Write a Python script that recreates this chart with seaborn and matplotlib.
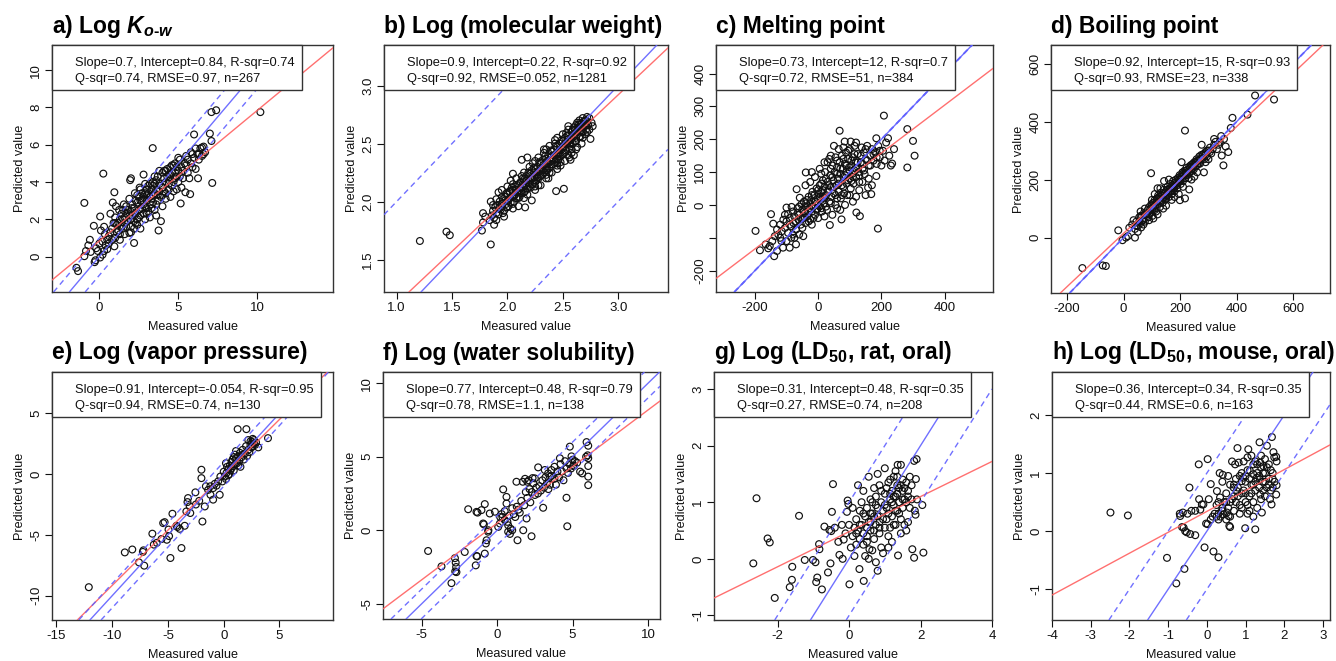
import numpy as np
import pandas as pd
import matplotlib
matplotlib.use('Agg')
import matplotlib.pyplot as plt
import matplotlib.patches as mpatches
import matplotlib.transforms as mtrans
import seaborn as sns

# Measured vs predicted values (approximate subset of points)
kow_pts = [(-1.45,-0.6),(-1.35,-0.78),(-0.95,2.88),(-0.95,0.02),(-0.85,0.3),(-0.7,0.6),(-0.6,0.9),(-0.55,0.25),
    (-0.35,1.65),(-0.3,-0.3),(-0.25,-0.2),(-0.2,0.45),(0.05,2.15),(0.05,-0.05),(0.2,0.1),(0.25,4.45),(0.3,1.6),
    (0.35,1.2),(0.4,0.6),(0.5,0.9),(0.6,1.1),(0.7,2.3),(0.8,1.5),(0.85,2.9),(0.95,3.45),(0.95,0.55),(1.0,2.1),
    (1.05,2.7),(1.1,1.3),(1.2,1.8),(1.25,2.5),(1.3,0.9),(1.4,1.6),(1.5,2.0),(1.55,2.8),(1.6,1.2),(1.7,2.3),
    (1.8,1.9),(1.9,3.1),(1.95,4.1),(2.0,4.2),(2.0,1.6),(2.05,2.6),(1.9,1.27),(2.1,2.2),(2.2,0.73),(2.25,3.4),
    (2.3,1.8),(2.4,2.9),(2.5,2.1),(2.55,3.7),(2.6,1.5),(2.7,2.6),(2.8,4.4),(2.8,3.2),(2.9,2.0),(3.0,3.0),
    (3.0,3.6),(3.1,2.4),(3.2,3.9),(3.25,2.8),(3.38,5.82),(3.4,3.3),(3.5,2.5),(3.5,4.3),(3.6,3.6),(3.7,3.0),
    (3.75,1.4),(3.8,4.6),(3.9,1.9),(3.9,3.8),(4.0,2.7),(4.1,4.2),(4.2,3.4),(4.3,4.7),(4.4,3.9),(4.5,3.2),
    (4.6,4.5),(4.7,4.0),(4.8,5.0),(4.9,3.6),(5.0,4.6),(5.1,5.2),(5.15,2.85),(5.3,4.2),(5.45,3.45),(5.5,5.4),
    (5.6,4.5),(5.75,3.35),(5.8,5.0),(5.9,5.5),(6.0,6.55),(6.1,4.7),(6.2,5.5),(6.25,4.2),(6.4,5.8),(6.6,5.5),
    (6.5,5.85),(7.0,6.6),(7.1,6.2),(7.15,3.95),(7.1,7.75),(7.4,7.85),(10.2,7.75),(1.5,1.5),(2.0,2.0),(2.5,2.5),
    (2.2,2.6),(2.7,3.4),(3.3,3.1),(2.9,3.9),(3.6,4.1),(4.1,3.5),(4.7,4.9),(5.2,4.8),(4.4,4.1),(3.1,3.4),
    (2.6,3.0),(1.8,2.5),(1.6,2.1),(2.3,2.3),(2.9,2.7),(3.4,2.9),(4.6,3.8),(5.5,4.9),(6.0,5.3),(0.9,1.8),
    (1.2,1.4),(0.5,0.4),(0.2,0.8),(3.7,3.3),(4.9,4.3),(5.8,5.6),(6.3,5.2),(4.0,4.5),(3.2,2.1),(2.0,1.3),
    (2.4,3.3),(2.8,2.3),(3.0,2.6),(3.3,3.6),(3.5,3.9),(3.8,3.5),(4.2,4.0),(4.5,4.8),(5.0,4.0),(5.3,4.6),
    (1.3,2.0),(1.0,1.0),(0.7,1.3),(1.7,1.6),(2.2,1.9),(-0.1,0.3),(0.1,1.4),(4.2,4.6),(4.8,4.5),(6.5,5.4),
    (0.0,0.7),(0.3,0.3),(0.6,0.7),(0.8,0.9),(1.1,1.7),(1.3,1.2),(1.4,2.3),(1.6,1.8),(1.7,2.7),(1.9,2.2),
    (2.1,2.8),(2.2,1.5),(2.3,3.0),(2.4,2.0),(2.5,3.2),(2.6,2.2),(2.7,3.0),(2.8,2.8),(2.9,3.4),(3.0,2.3),
    (3.1,3.8),(3.2,3.2),(3.3,2.6),(3.4,4.0),(3.5,3.4),(3.6,2.8),(3.7,4.3),(3.8,3.9),(3.9,3.2),(4.0,3.7),
    (4.1,4.6),(4.2,3.1),(4.3,4.3),(4.4,3.6),(4.5,4.4),(4.6,4.9),(4.7,3.5),(4.8,4.2),(4.9,4.8),(5.0,5.3),
    (5.1,4.3),(5.2,3.7),(5.4,5.0),(5.6,5.2),(5.7,4.2),(5.9,4.8),(6.1,5.8),(6.3,5.5),(6.6,5.9),(6.7,5.6),
    (1.0,1.8),(2.0,2.4),(3.0,3.3),(4.0,3.3),(2.4,1.7),(1.5,2.5),(3.6,2.2),(2.6,3.6),(3.4,3.8),(4.4,4.4)]

mw_pts = [(1.86,1.88),(1.87,1.92),(1.88,1.86),(1.89,1.95),(1.9,1.9),(1.91,1.97),(1.92,1.89),(1.93,2.0),
    (1.94,1.93),(1.95,1.96),(1.96,2.02),(1.97,1.92),(1.98,2.04),(1.99,1.98),(2.0,2.06),(2.0,1.95),(2.01,2.01),
    (2.02,2.08),(2.03,1.99),(2.04,2.04),(2.05,2.1),(2.05,1.98),(2.06,2.05),(2.07,2.13),(2.08,2.03),(2.09,2.08),
    (2.1,2.15),(2.1,2.03),(2.11,2.1),(2.12,2.17),(2.13,2.07),(2.14,2.12),(2.15,2.19),(2.15,2.08),(2.16,2.14),
    (2.17,2.22),(2.18,2.11),(2.19,2.16),(2.2,2.24),(2.2,2.13),(2.21,2.19),(2.22,2.27),(2.23,2.15),(2.24,2.21),
    (2.25,2.28),(2.25,2.17),(2.26,2.23),(2.27,2.3),(2.28,2.2),(2.29,2.26),(2.3,2.33),(2.3,2.22),(2.31,2.28),
    (2.32,2.36),(2.33,2.25),(2.34,2.3),(2.35,2.37),(2.35,2.27),(2.36,2.33),(2.37,2.4),(2.38,2.29),(2.39,2.35),
    (2.4,2.43),(2.4,2.32),(2.41,2.37),(2.42,2.45),(2.43,2.34),(2.44,2.4),(2.45,2.47),(2.45,2.37),(2.46,2.42),
    (2.47,2.5),(2.48,2.39),(2.49,2.45),(2.5,2.52),(2.5,2.41),(2.51,2.47),(2.52,2.55),(2.53,2.44),(2.54,2.5),
    (2.55,2.57),(2.56,2.46),(2.57,2.53),(2.58,2.6),(2.59,2.5),(2.6,2.56),(2.61,2.62),(2.62,2.52),(2.63,2.58),
    (2.64,2.64),(2.65,2.56),(2.66,2.61),(2.67,2.67),(2.68,2.6),(2.7,2.65),(2.71,2.7),(2.73,2.66),(2.74,2.72),
    (1.21,1.66),(1.45,1.74),(1.48,1.71),(1.85,1.63),(1.77,1.75),(1.78,1.82),(1.78,1.9),(1.8,1.87),(1.84,1.84),
    (1.85,2.0),(1.88,1.8),(1.92,2.08),(1.95,2.1),(1.97,1.87),(2.0,2.13),(2.03,2.18),(2.05,2.24),(2.08,2.2),
    (2.1,1.96),(2.13,2.36),(2.16,1.95),(2.18,2.38),(2.2,2.3),(2.22,2.01),(2.25,2.1),(2.28,2.38),(2.3,2.14),
    (2.33,2.42),(2.35,2.2),(2.37,2.2),(2.38,2.48),(2.4,2.25),(2.43,2.53),(2.44,2.09),(2.45,2.28),(2.48,2.31),
    (2.5,2.58),(2.51,2.11),(2.52,2.35),(2.55,2.62),(2.56,2.38),(2.58,2.42),(2.6,2.4),(2.62,2.66),(2.63,2.47),
    (2.65,2.7),(2.67,2.5),(2.68,2.72),(2.7,2.58),(2.72,2.6),(2.75,2.54),(2.77,2.65),(2.76,2.68),(2.72,2.73),
    (2.45,2.33),(2.62,2.45),(2.57,2.36),(1.95,1.98),(2.02,2.03),(2.08,2.1),(2.14,2.15),(2.19,2.2),(2.24,2.25),
    (2.3,2.29),(2.36,2.35),(2.42,2.4),(2.47,2.44),(2.53,2.51),(2.58,2.55),(2.63,2.61),(2.69,2.66),(2.0,2.0),
    (2.12,2.12),(2.27,2.26),(2.39,2.38),(2.55,2.52),(2.66,2.64),(1.98,2.01),(2.17,2.18),(2.33,2.32),(2.5,2.47),
    (2.61,2.58),(1.87,1.97),(1.9,1.84),(1.93,1.94),(1.96,1.9),(1.99,2.07),(2.01,1.96),(2.04,2.12),(2.06,2.0),
    (2.09,2.14),(2.11,2.04),(2.14,2.2),(2.16,2.09),(2.19,2.25),(2.21,2.12),(2.24,2.29),(2.26,2.18),(2.29,2.34),
    (2.31,2.23),(2.34,2.39),(2.36,2.27),(2.39,2.44),(2.41,2.32),(2.44,2.48),(2.46,2.36),(2.49,2.53),(2.51,2.42),
    (2.54,2.57),(2.56,2.49),(2.59,2.62),(2.61,2.52),(2.64,2.66),(2.66,2.56),(2.69,2.69),(2.71,2.62),(2.02,2.09),
    (2.07,2.06),(2.12,2.09),(2.17,2.13),(2.22,2.2),(2.27,2.21),(2.32,2.27),(2.37,2.33),(2.42,2.36),(2.47,2.41),
    (2.52,2.5),(2.57,2.5),(2.62,2.55),(2.67,2.6),(2.13,2.22),(2.23,2.33),(2.33,2.45),(2.43,2.5),(2.53,2.59),
    (2.63,2.68),(2.18,2.06),(2.28,2.14),(2.38,2.25),(2.48,2.34),(2.58,2.45),(2.68,2.55),(2.71,2.66),(2.74,2.62),
    (2.7,2.7),(2.66,2.68),(2.6,2.64),(1.9,2.02),(1.95,2.04),(2.05,2.15),(2.15,2.25),(2.25,2.35),(2.35,2.45),
    (2.45,2.55),(2.55,2.65),(2.65,2.63),(2.15,2.03),(2.05,1.94),(2.25,2.13),(2.35,2.23),(2.45,2.31),(2.55,2.4)]

mp_pts = [(-198,-79),(-184,-138),(-149,-28),(-142,-57),(-139,-156),(-166,-120),(-158,-132),(-153,-125),
    (-137,-95),(-126,-90),(-116,-110),(-111,-130),(-100,-8),(-95,-28),(-84,-6),(-68,48),(-39,99),(-58,22),
    (-53,2),(-42,-39),(-32,-19),(-47,-95),(37,-61),(74,-44),(68,226),(84,193),(103,193),(121,-23),(132,-34),
    (189,-72),(208,272),(184,203),(221,203),(240,170),(234,126),(282,114),(282,231),(300,195),(305,150),
    (184,88),(158,53),(168,33),(147,94),(126,114),(105,73),(-120,-60),(-110,-45),(-105,-70),(-100,-50),
    (-95,-85),(-90,-40),(-85,-65),(-80,-20),(-78,-55),(-75,-35),(-70,-75),(-65,-10),(-62,-45),(-60,-30),
    (-55,-60),(-50,-15),(-48,-40),(-45,10),(-42,-25),(-40,-55),(-38,5),(-35,-35),(-30,25),(-28,-10),(-25,-45),
    (-22,15),(-20,-20),(-18,40),(-15,-5),(-12,30),(-10,-30),(-8,10),(-5,50),(-3,-12),(0,20),(2,35),(5,-5),
    (5,60),(8,15),(10,40),(12,-20),(15,75),(15,25),(18,5),(20,55),(22,100),(25,30),(28,-15),(30,70),(32,45),
    (35,140),(35,10),(38,90),(40,55),(42,25),(45,120),(48,75),(50,35),(52,100),(55,145),(55,0),(58,60),
    (60,115),(62,80),(65,40),(68,130),(70,95),(72,20),(75,150),(75,60),(78,110),(80,85),(82,35),(85,125),
    (88,160),(90,100),(90,65),(92,30),(95,140),(98,115),(100,80),(100,170),(103,50),(105,120),(108,95),
    (110,145),(112,65),(115,180),(115,105),(118,130),(120,85),(125,155),(128,100),(130,45),(135,130),
    (138,175),(140,110),(145,160),(150,140),(155,180),(160,120),(165,150),(170,170),(175,135),(180,160),
    (185,125),(190,180),(195,145),(200,120),(205,165),(210,135),(215,190),(225,150),(230,120),(160,80),
    (170,60),(140,70),(120,25),(110,10),(150,30),(60,-10),(45,-30),(-60,-90),(-85,-100),(-130,-75),
    (-75,-100),(-100,-110),(-120,-100),(0,-40),(-20,-60),(20,-35),(85,0),(65,170),(50,180),(30,130),
    (10,95),(-10,85),(-25,70),(-40,60),(-115,-80),(-105,-30),(-90,-60),(-80,-90),(-70,-50),(-65,-25),
    (-55,-40),(-50,-70),(-45,-20),(-40,-5),(-35,15),(-30,-50),(-25,5),(-20,30),(-15,-40),(-10,10),(-5,-15),
    (0,45),(0,0),(5,25),(10,-10),(10,65),(15,45),(20,20),(25,80),(25,-5),(30,40),(35,60),(40,110),(40,5),
    (45,85),(50,55),(55,30),(60,95),(60,135),(65,65),(70,110),(75,30),(80,140),(80,55),(85,90),(90,120),
    (95,75),(95,165),(100,105),(105,135),(110,85),(115,155),(120,110),(125,130),(130,90),(135,150),(140,125),
    (145,105),(150,170),(155,135),(165,120),(175,155),(185,145),(195,165),(60,20),(70,-15),(100,30),(130,70),
    (-20,100),(5,110),(20,130),(40,150),(80,175),(120,190),(-90,-130),(-70,-120),(-60,-5),(-130,-140),(-145,-110)]

bp_pts = [(-146,-105),(-74,-96),(-63,-98),(-19,25),(-4,-9),(8,0),(15,5),(20,34),(40,0),(97,222),(105,66),
    (143,195),(217,369),(205,260),(199,129),(217,135),(232,166),(276,320),(284,225),(347,283),(353,249),
    (370,295),(361,314),(385,413),(379,378),(438,424),(465,490),(532,476),(30,45),(40,30),(45,55),(50,40),
    (55,70),(60,50),(62,35),(65,75),(70,60),(72,85),(75,55),(80,80),(85,95),(88,70),(90,105),(95,85),
    (98,115),(100,95),(102,75),(105,120),(108,100),(110,130),(112,110),(115,90),(118,135),(120,115),
    (122,145),(125,125),(128,105),(130,140),(132,155),(135,130),(138,120),(140,150),(142,165),(145,140),
    (148,130),(150,160),(152,145),(155,175),(158,155),(160,140),(162,170),(165,185),(168,160),(170,150),
    (172,180),(175,195),(178,170),(180,160),(182,190),(185,200),(188,180),(190,170),(192,205),(195,190),
    (198,215),(200,200),(202,185),(205,210),(208,225),(210,195),(212,215),(215,230),(218,205),(220,220),
    (222,240),(225,215),(228,235),(230,205),(232,245),(235,225),(238,250),(240,230),(245,255),(248,235),
    (250,260),(255,245),(258,270),(260,250),(265,265),(268,280),(270,255),(275,270),(280,285),(285,270),
    (290,295),(295,280),(300,300),(305,310),(310,290),(320,320),(330,305),(340,330),(345,350),(355,340),
    (90,60),(100,130),(120,80),(60,90),(140,100),(180,140),(195,150),(160,200),(210,175),(240,200),
    (120,170),(75,100),(50,20),(35,60),(260,225),(290,260),(45,40),(55,55),(65,60),(75,80),(85,75),(95,100),
    (105,105),(115,120),(125,140),(135,145),(145,155),(155,165),(165,170),(175,175),(185,185),(195,200),
    (205,200),(215,215),(225,225),(235,240),(245,240),(255,260),(265,255),(275,285),(285,290),(295,300),
    (305,295),(315,305),(325,330),(335,320),(110,95),(130,120),(150,135),(170,165),(190,195),(210,220),
    (230,220),(250,250),(270,270),(290,285),(100,110),(120,135),(140,135),(160,160),(180,175),(200,210),
    (220,230),(240,245),(260,265),(280,275),(60,75),(70,45),(90,80),(150,110),(170,130),(130,170),(110,150),
    (250,210),(300,270),(320,340)]

vp_pts = [(-12.1,-9.3),(-8.87,-6.44),(-8.2,-6.2),(-7.6,-7.26),(-7.2,-6.27),(-7.25,-6.4),(-7.13,-7.53),
    (-6.4,-4.9),(-6.27,-5.8),(-6.0,-5.65),(-5.58,-5.34),(-5.43,-4.03),(-5.3,-3.95),(-4.95,-4.56),(-5.1,-5.4),
    (-4.9,-5.1),(-4.78,-6.9),(-4.6,-3.26),(-4.24,-4.25),(-4.15,-4.35),(-3.95,-4.5),(-3.79,-6.08),(-3.5,-4.25),
    (-3.35,-3.07),(-3.25,-2.3),(-3.2,-1.97),(-3.05,-2.65),(-2.54,-1.5),(-2.2,-2.2),(-2.0,0.36),(-2.0,-0.33),
    (-1.91,-3.9),(-1.7,-2.66),(-1.19,-1.7),(-0.95,-2.1),(-0.95,-1.15),(-0.65,-0.95),(-0.5,-0.6),(-0.36,-1.7),
    (-0.12,-0.6),(0.1,-0.2),(0.25,0.1),(0.4,0.4),(0.55,0.7),(0.7,1.0),(0.85,0.65),(1.1,1.3),(1.25,3.7),
    (2.03,3.7),(2.2,2.8),(2.4,2.7),(2.55,2.65),(2.7,2.8),(2.6,2.9),(3.97,2.96),(1.7,2.0),(2.0,2.3),
    (1.45,1.75),(1.3,1.45),(2.8,2.4),(3.1,2.2),(0.0,0.2),(0.2,-0.4),(0.3,0.6),(0.5,0.0),(0.6,0.3),(0.8,1.2),
    (0.9,0.3),(1.0,0.8),(1.0,1.6),(1.2,0.9),(1.4,1.1),(1.5,0.6),(1.6,1.4),(1.8,1.2),(1.9,1.7),(2.1,1.5),
    (2.2,2.0),(2.3,1.8),(2.5,2.2),(2.7,2.5),(2.9,2.6),(0.4,-0.1),(0.7,0.5),(1.1,1.9),(1.3,0.7),(0.2,0.9),
    (-0.3,-0.2),(-0.8,-0.8),(-1.4,-1.3),(-1.6,-1.0),(0.9,1.4),(1.7,1.6),(2.4,2.4),(2.6,2.3),(-2.5,-2.5),
    (-3.0,-3.2),(-1.2,-1.0)]

ws_pts = [(-4.58,-1.41),(-3.69,-2.46),(-3.03,-3.6),(-2.8,-1.9),(-2.75,-2.2),(-2.72,-2.5),(-2.7,-2.85),
    (-2.78,-2.8),(-2.15,-1.48),(-1.92,1.43),(-1.37,1.25),(-1.3,1.2),(-1.37,-1.75),(-1.33,-1.78),(-1.42,-2.39),
    (-1.04,1.37),(-0.93,0.46),(-0.88,0.4),(-0.82,1.78),(-0.7,-0.68),(-0.75,-0.9),(-0.82,-1.59),(-0.6,-0.1),
    (-0.58,0.0),(-0.49,1.14),(-0.15,1.26),(0.07,0.23),(0.18,0.46),(0.35,0.9),(0.4,2.78),(0.62,2.27),
    (0.62,1.82),(0.68,0.57),(0.73,0.34),(0.73,-0.1),(0.85,-0.25),(0.9,0.1),(1.0,0.0),(1.1,1.1),(1.28,3.3),
    (1.35,-0.68),(1.73,0.0),(1.95,0.8),(2.28,-0.41),(2.5,3.53),(2.72,4.28),(3.05,1.53),(3.16,4.1),
    (3.38,3.87),(3.5,3.64),(3.6,4.1),(3.8,4.32),(3.9,3.1),(4.16,4.9),(4.6,2.21),(4.65,0.27),(4.82,5.69),
    (4.93,5.03),(5.04,4.37),(5.15,4.71),(5.64,3.87),(5.5,3.99),(5.93,6.0),(6.04,4.9),(6.04,4.37),(6.04,3.65),
    (6.04,3.07),(6.0,5.1),(6.04,5.75),(5.9,5.0),(0.2,0.9),(0.3,1.1),(0.5,0.7),(0.5,1.3),(0.8,1.0),(1.0,1.5),
    (1.2,0.9),(1.3,1.6),(1.5,1.2),(1.6,2.0),(1.8,1.7),(1.9,2.6),(2.0,2.2),(2.1,3.4),(2.2,1.9),(2.3,2.6),
    (2.4,3.2),(2.5,2.4),(2.6,2.9),(2.7,2.5),(2.8,3.0),(2.9,2.7),(3.0,3.4),(3.1,2.9),(3.2,3.6),(3.3,3.2),
    (3.4,2.8),(3.5,3.1),(3.6,3.7),(3.8,3.5),(4.0,4.0),(4.1,3.6),(4.2,4.5),(4.3,4.0),(4.4,3.4),(4.5,4.7),
    (4.6,4.2),(4.7,3.9),(4.8,4.5),(4.9,4.2),(5.0,4.8),(5.1,4.4),(5.3,4.6),(1.4,1.4),(2.0,3.3),(1.7,3.3),
    (1.85,3.5),(2.35,3.55),(2.15,2.8)]

rat_pts = [(-2.68,-0.08),(-2.59,1.07),(-2.28,0.36),(-2.22,0.29),(-2.08,-0.69),(-1.66,-0.5),(-1.6,-0.37),
    (-1.59,-0.14),(-1.4,0.76),(-1.24,-0.02),(-1.01,-0.02),(-0.94,-0.06),(-0.92,-0.41),(-0.89,-0.33),
    (-0.84,0.26),(-0.83,0.17),(-0.76,-0.54),(-0.69,0.57),(-0.55,0.51),(-0.5,0.49),(-0.59,-0.24),(-0.48,0.83),
    (-0.45,1.32),(-0.52,-0.08),(-0.27,0.07),(-0.18,0.0),(-0.15,0.34),(-0.04,1.03),(-0.02,0.97),(0.01,-0.45),
    (-0.06,0.83),(0.29,-0.18),(0.41,-0.39),(0.57,0.17),(0.75,-0.06),(0.8,-0.21),(1.36,1.66),(1.45,1.66),
    (1.37,0.06),(1.82,1.73),(1.89,1.76),(1.87,1.41),(1.77,0.17),(1.82,0.02),(1.84,0.85),(1.86,0.78),
    (2.08,0.11),(2.05,0.95),(-0.3,0.3),(-0.1,0.45),(0.0,0.6),(0.05,0.2),(0.1,0.4),(0.1,0.9),(0.15,0.55),
    (0.2,0.25),(0.2,0.7),(0.25,0.5),(0.3,0.85),(0.3,0.35),(0.35,0.6),(0.4,1.2),(0.4,0.45),(0.45,0.75),
    (0.5,0.9),(0.5,0.3),(0.55,1.45),(0.55,0.65),(0.6,1.05),(0.6,0.5),(0.65,0.8),(0.7,1.25),(0.7,0.35),
    (0.75,0.95),(0.75,0.6),(0.8,1.5),(0.8,0.75),(0.85,0.45),(0.9,1.0),(0.9,0.2),(0.95,0.7),(1.0,1.15),
    (1.0,0.55),(1.05,0.9),(1.1,1.35),(1.1,0.4),(1.15,1.05),(1.2,0.75),(1.2,1.2),(1.25,0.95),(1.25,1.45),
    (1.3,0.6),(1.3,1.1),(1.35,0.85),(1.4,1.25),(1.4,1.0),(1.45,0.7),(1.5,1.2),(1.5,0.9),(1.55,1.05),
    (1.6,1.35),(1.6,0.5),(1.65,1.1),(1.7,0.9),(1.75,1.3),(1.1,0.2),(1.2,0.3),(0.95,0.1),(1.55,0.6),
    (0.45,0.05),(0.65,0.15),(1.0,1.6),(1.3,1.55),(0.25,1.3),(0.35,1.0),(0.85,1.3),(1.15,0.55),(1.45,0.45),
    (1.65,0.65),(0.55,0.0),(0.15,0.05),(-0.2,0.6),(-0.4,0.55),(1.7,1.45),(1.9,1.05),(1.35,1.3),(0.6,0.8),
    (0.3,0.6),(0.4,0.8),(0.5,0.55),(0.6,0.65),(0.65,1.0),(0.7,0.75),(0.75,1.1),(0.8,0.9),(0.85,0.65),
    (0.9,1.2),(0.95,0.85),(1.0,0.95),(1.05,1.25),(1.1,0.8),(1.15,1.15),(1.2,1.0),(1.25,1.1),(1.3,0.85),
    (1.35,1.15),(1.4,0.8),(1.45,1.3),(1.5,1.05),(1.55,1.25),(1.6,1.0),(1.65,1.2),(1.05,0.7),(0.85,0.55),
    (0.5,0.4),(0.2,0.45),(1.25,0.6),(1.35,1.45),(1.15,1.4),(0.7,0.5),(0.4,0.25),(1.5,1.4),(1.75,1.05)]

mouse_pts = [(-2.49,0.32),(-2.04,0.27),(-1.03,-0.46),(-0.79,-0.9),(-0.58,-0.65),(-0.45,0.75),(-0.64,0.07),
    (-0.6,0.06),(-0.69,0.26),(-0.62,0.32),(-0.56,0.0),(-0.52,-0.02),(-0.43,-0.05),(-0.3,-0.07),(-0.21,1.15),
    (-0.17,0.37),(-0.13,0.46),(-0.09,0.46),(-0.06,-0.28),(0.02,1.24),(-0.02,0.13),(0.02,0.12),(0.17,-0.35),
    (0.3,-0.45),(0.1,0.81),(0.26,0.69),(0.33,1.0),(0.41,0.97),(0.34,0.58),(0.39,0.35),(0.43,0.29),
    (0.52,0.32),(0.56,0.26),(0.58,0.09),(0.6,0.07),(0.73,1.15),(0.79,1.43),(0.82,1.18),(0.69,0.75),
    (0.77,0.69),(0.9,0.86),(0.94,0.92),(0.99,0.05),(1.05,1.27),(1.07,1.41),(1.11,1.04),(1.2,0.98),
    (1.29,0.92),(1.37,0.89),(1.25,0.03),(1.36,1.53),(1.38,1.18),(1.46,1.12),(1.5,1.24),(1.55,1.47),
    (1.72,1.36),(1.74,1.27),(1.68,1.62),(1.79,1.28),(1.8,0.79),(1.79,0.63),(1.63,0.55),(1.67,0.46),
    (1.42,0.32),(1.38,0.63),(0.2,0.3),(0.3,0.2),(0.35,0.25),(0.45,0.5),(0.5,0.65),(0.55,0.4),(0.6,0.8),
    (0.65,0.55),(0.7,0.35),(0.75,0.9),(0.8,0.6),(0.85,0.45),(0.9,1.0),(0.95,0.7),(1.0,0.5),(1.0,0.85),
    (1.05,1.05),(1.1,0.6),(1.1,0.35),(1.15,0.8),(1.2,1.15),(1.2,0.5),(1.25,0.7),(1.3,1.0),(1.3,0.4),
    (1.35,0.75),(1.4,1.3),(1.45,0.85),(1.5,0.6),(1.5,1.0),(1.55,0.75),(1.6,1.15),(1.6,0.9),(1.65,0.7),
    (1.7,1.0),(1.75,0.85),(1.8,1.2),(0.4,0.85),(0.25,0.45),(0.15,0.25),(0.05,0.55),(0.65,1.2),(0.85,0.3),
    (1.05,0.45),(1.15,1.3),(1.4,0.55),(1.25,1.2),(0.95,1.2),(0.55,0.95),(0.3,0.3),(0.5,0.2),(1.45,1.0),
    (1.7,0.75),(0.7,0.6),(0.1,0.2),(-0.2,0.55),(-0.3,0.35),(-0.4,0.35),(-0.5,0.3),(-0.7,0.3),
    (0.6,0.5),(0.7,0.8),(0.8,0.75),(0.9,0.65),(1.0,0.95),(1.1,0.9),(1.15,0.65),(1.25,0.85),(1.3,1.15),
    (1.35,0.95),(1.45,0.7),(1.5,0.85),(1.55,1.1),(1.6,0.8),(1.65,1.05),(1.2,0.8),(1.0,0.65),(0.85,0.95),
    (0.75,0.5),(0.5,0.5),(0.4,0.4),(0.3,0.5),(1.4,1.1),(1.7,0.9),(0.9,0.4),(1.05,0.3),(0.6,0.25),
    (0.25,0.25),(1.2,0.25)]

titles = [r'a) Log $K_{o\text{-}w}$', 'b) Log (molecular weight)', 'c) Melting point', 'd) Boiling point',
          'e) Log (vapor pressure)', 'f) Log (water solubility)', r'g) Log (LD$_{50}$, rat, oral)',
          r'h) Log (LD$_{50}$, mouse, oral)']
slopes = [0.7, 0.9, 0.73, 0.92, 0.91, 0.77, 0.31, 0.36]
intercepts = [0.84, 0.22, 12, 15, -0.054, 0.48, 0.48, 0.34]
stats = ['Slope=0.7, Intercept=0.84, R-sqr=0.74\nQ-sqr=0.74, RMSE=0.97, n=267',
         'Slope=0.9, Intercept=0.22, R-sqr=0.92\nQ-sqr=0.92, RMSE=0.052, n=1281',
         'Slope=0.73, Intercept=12, R-sqr=0.7\nQ-sqr=0.72, RMSE=51, n=384',
         'Slope=0.92, Intercept=15, R-sqr=0.93\nQ-sqr=0.93, RMSE=23, n=338',
         'Slope=0.91, Intercept=-0.054, R-sqr=0.95\nQ-sqr=0.94, RMSE=0.74, n=130',
         'Slope=0.77, Intercept=0.48, R-sqr=0.79\nQ-sqr=0.78, RMSE=1.1, n=138',
         'Slope=0.31, Intercept=0.48, R-sqr=0.35\nQ-sqr=0.27, RMSE=0.74, n=208',
         'Slope=0.36, Intercept=0.34, R-sqr=0.35\nQ-sqr=0.44, RMSE=0.6, n=163']
xlims = [(-3.0, 14.8), (0.886, 3.45), (-323, 553), (-257, 730), (-15.4, 9.8), (-7.57, 10.8), (-3.78, 3.98), (-4.0, 3.18)]
ylims = [(-1.9, 11.35), (1.22, 3.35), (-265, 487), (-191, 664), (-12.0, 8.4), (-6.04, 10.77), (-1.08, 3.3), (-1.53, 2.74)]
xticks = [[0, 5, 10], [1.0, 1.5, 2.0, 2.5, 3.0], [-200, 0, 200, 400], [-200, 0, 200, 400, 600],
          [-15, -10, -5, 0, 5], [-5, 0, 5, 10], [-2, 0, 2, 4], [-4, -3, -2, -1, 0, 1, 2, 3]]
yticks = [[0, 2, 4, 6, 8, 10], [1.5, 2.0, 2.5, 3.0], [-200, -100, 0, 100, 200, 300, 400], [0, 200, 400, 600],
          [-10, -5, 0, 5], [-5, 0, 5, 10], [-1, 0, 1, 2, 3], [-1, 0, 1, 2]]
ylabels_c = ['-200', '', '0', '100', '200', '300', '400']
all_pts = [kow_pts, mw_pts, mp_pts, bp_pts, vp_pts, ws_pts, rat_pts, mouse_pts]

sns.set_style('ticks')
plt.rcParams['font.family'] = ['Liberation Sans', 'DejaVu Sans']
plt.rcParams['axes.unicode_minus'] = False
plt.rcParams['text.color'] = 'black'
plt.rcParams['axes.labelcolor'] = '#111111'
plt.rcParams['mathtext.fontset'] = 'custom'
plt.rcParams['mathtext.rm'] = 'Liberation Sans:bold'
plt.rcParams['mathtext.it'] = 'Liberation Sans:bold:italic'
plt.rcParams['mathtext.bf'] = 'Liberation Sans:bold'

W, H = 1336, 661
fig = plt.figure(figsize=(W / 100, H / 100), dpi=100)
# axes boxes in pixels: left, top, width, height
boxes = [(52, 45, 281, 247), (384, 45, 284, 247), (716, 45, 277, 247), (1051, 45, 279, 248),
         (52, 372, 281, 248), (383, 372, 277, 247), (714, 372, 278, 248), (1052, 372, 278, 248)]

axes, texts = [], []
for i in range(8):
    l, t, w, h = boxes[i]
    ax = fig.add_axes([l / W, 1 - (t + h) / H, w / W, h / H])
    df = pd.DataFrame(all_pts[i], columns=['measured', 'predicted'])
    sns.scatterplot(data=df, x='measured', y='predicted', ax=ax, marker='o', s=24,
                    facecolor='none', edgecolor='#111111', linewidth=0.85, zorder=2)
    ax.axline((0, intercepts[i]), slope=slopes[i], color='#ff6060', lw=1.0, alpha=0.9, zorder=3)
    ax.axline((0, 0), slope=1, color='#6060ff', lw=1.0, alpha=0.9, zorder=3)
    for off in (-1, 1):
        ax.axline((0, off), slope=1, color='#6060ff', lw=1.0, alpha=0.9, ls=(0, (4, 3)), zorder=3)
    ax.set_xlim(xlims[i])
    ax.set_ylim(ylims[i])
    ax.set_xticks(xticks[i])
    ax.set_yticks(yticks[i])
    if i == 2:
        ax.set_yticklabels(ylabels_c)
    ax.tick_params(axis='both', direction='out', length=5, width=0.8, pad=2, labelsize=9.5, colors='#111111')
    ax.tick_params(axis='y', labelrotation=90)
    for lab in ax.get_yticklabels():
        lab.set_va('center')
    for sp in ax.spines.values():
        sp.set_color('#333333')
        sp.set_linewidth(1.0)
    ax.set_xlabel('Measured value', fontsize=9.1, labelpad=5)
    ax.set_ylabel('Predicted value', fontsize=9.1, labelpad=3)
    ax.set_title(titles[i], loc='left', fontsize=16.5, fontweight='bold', pad=9, color='black')
    tr = mtrans.offset_copy(ax.transAxes, fig=fig, x=23, y=-12, units='dots')
    txt = ax.text(0, 1, stats[i], transform=tr, ha='left', va='top', fontsize=9.25,
                  linespacing=1.4, zorder=6, color='#111111')
    axes.append(ax)
    texts.append(txt)

fig.canvas.draw()
renderer = fig.canvas.get_renderer()
for ax, txt in zip(axes, texts):
    bb = txt.get_window_extent(renderer)
    abb = ax.get_window_extent(renderer)
    right = bb.x1 + 7
    inv = ax.transAxes.inverted()
    x1, y0 = inv.transform((right, abb.y1 - 45))
    rect = mpatches.Rectangle((0, y0), x1, 1 - y0, transform=ax.transAxes, facecolor='white',
                              edgecolor='#333333', lw=1.0, zorder=5, clip_on=False)
    ax.add_patch(rect)

fig.savefig('out.png', dpi=100)
